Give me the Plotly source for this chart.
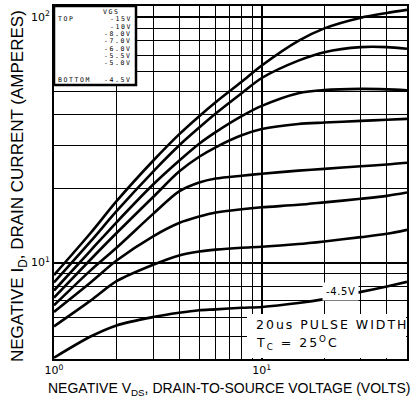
import plotly.graph_objects as go
import math

# ---- data ----
vds = [1, 1.5, 2, 3, 4, 5, 6, 8, 10, 15, 20, 30, 40, 50]
id_15v = [8.9, 13.2, 17.8, 26, 33.3, 39.5, 45, 54.5, 63.5, 80, 90, 99.5, 104, 107]
id_10v = [8.3, 12.2, 16.2, 23.5, 30, 35.5, 40.5, 49, 56.5, 66.5, 72, 75.5, 75.5, 74.3]
id_8v = [7.7, 11.2, 14.6, 20.8, 26, 30.5, 34, 39.5, 43.5, 49, 50.5, 51, 50.8, 50.4]
id_7v = [7.2, 10.3, 13.2, 18.5, 23.5, 27, 29.5, 33, 35, 36.7, 37.2, 37.8, 38.2, 38.5]
id_6v = [6.7, 9.3, 11.5, 15.8, 19.5, 21.2, 22.0, 22.6, 23.0, 23.7, 24.1, 24.7, 25.1, 25.5]
id_55v = [6.3, 8.3, 10.2, 12.8, 14.5, 15.4, 16.0, 16.5, 16.8, 17.2, 17.6, 18.2, 18.7, 19.3]
id_5v = [5.5, 7.0, 8.4, 9.8, 10.7, 11.1, 11.3, 11.5, 11.6, 11.9, 12.2, 12.7, 13.1, 13.6]
id_45v = [4.1, 5.0, 5.55, 6.0, 6.25, 6.4, 6.45, 6.55, 6.6, 6.85, 7.1, 7.6, 8.0, 8.35]

series = [id_15v, id_10v, id_8v, id_7v, id_6v, id_55v, id_5v, id_45v]
vgs_labels = ["-15V", "-10V", "-8.0V", "-7.0V", "-6.0V", "-5.5V", "-5.0V", "-4.5V"]

x_major = [1, 10]
x_major_text = ["10<sup>0</sup>", "10<sup>1</sup>"]
x_minor = [2, 3, 4, 5, 6, 7, 8, 9, 20, 30, 40]
y_major = [10, 100]
y_major_text = ["10<sup>1</sup>", "10<sup>2</sup>"]
y_minor = [5, 6, 7, 8, 9, 20, 30, 40, 50, 60, 70, 80, 90]

x_range = [1, 50]
y_range = [4.05, 111]

W, H = 413, 404
ML, MR, MT, MB = 54, 6, 6, 45
PW, PH = W - ML - MR, H - MT - MB


def px(xp):
    return (xp - ML) / PW


def py(yp):
    return 1 - (yp - MT) / PH


fig = go.Figure()
for ys, name in zip(series, vgs_labels):
    fig.add_trace(go.Scatter(x=vds, y=ys, mode="lines", name=name,
                             line=dict(color="black", width=2.6, shape="spline", smoothing=0.8),
                             hoverinfo="skip"))

grid_common = dict(type="log", showgrid=True, gridcolor="black", gridwidth=2,
                   showline=True, linecolor="black", linewidth=2, mirror=True,
                   ticks="", zeroline=False, automargin=False,
                   tickfont=dict(family="DejaVu Sans", size=11, color="black"))

fig.update_xaxes(range=[math.log10(x_range[0]), math.log10(x_range[1])],
                 tickvals=x_major, ticktext=x_major_text,
                 minor=dict(tickvals=x_minor, showgrid=True, gridcolor="black", gridwidth=1, ticks=""),
                 **grid_common)
fig.update_yaxes(range=[math.log10(y_range[0]), math.log10(y_range[1])],
                 tickvals=y_major, ticktext=y_major_text,
                 minor=dict(tickvals=y_minor, showgrid=True, gridcolor="black", gridwidth=1, ticks=""),
                 **grid_common)

shapes = [
    # legend box
    dict(type="rect", xref="paper", yref="paper", x0=0, x1=px(136), y0=py(85), y1=1,
         fillcolor="white", line=dict(color="black", width=2.5), layer="above"),
    # note box (white, borderless)
    dict(type="rect", xref="paper", yref="paper", x0=px(247), x1=px(406), y0=py(358), y1=py(314),
         fillcolor="white", line=dict(width=0), layer="above"),
]

mono = dict(family="DejaVu Sans Mono", size=6.5, color="black")
ann = []
ls = "letter-spacing:1.6px"
ann.append(dict(x=px(111), y=py(11.5), text=f"<span style='{ls}'>VGS</span>", xanchor="center"))
ann.append(dict(x=px(57), y=py(19.5), text=f"<span style='{ls}'>TOP</span>", xanchor="left"))
rows_py = [19.5, 26.8, 34.1, 41.4, 48.7, 56, 63.3, 80]
for lab, ry in zip(vgs_labels, rows_py):
    ann.append(dict(x=px(133), y=py(ry), text=f"<span style='{ls}'>{lab}</span>", xanchor="right"))
ann.append(dict(x=px(57), y=py(80), text=f"<span style='{ls}'>BOTTOM</span>", xanchor="left"))
for a in ann:
    a.update(xref="paper", yref="paper", showarrow=False, yanchor="middle", font=mono, borderpad=0)

notes_font = dict(family="DejaVu Sans", size=12.5, color="black")
ann.append(dict(xref="paper", yref="paper", x=px(254), y=py(324), xanchor="left", yanchor="middle",
                showarrow=False, font=notes_font,
                text="<span style='letter-spacing:2px'>20us PULSE WIDTH</span>"))
ann.append(dict(xref="paper", yref="paper", x=px(254), y=py(343), xanchor="left", yanchor="middle",
                showarrow=False, font=notes_font,
                text="<span style='letter-spacing:2px'>T<sub>C</sub> = 25<sup>O</sup>C</span>"))
ann.append(dict(xref="paper", yref="paper", x=px(340), y=py(291), xanchor="center", yanchor="middle",
                showarrow=False, bgcolor="white", borderpad=3,
                font=dict(family="DejaVu Sans", size=10, color="black"),
                text="<span style='letter-spacing:0.6px'>-4.5V</span>"))

title_font = "Liberation Sans, sans-serif"
ann.append(dict(xref="paper", yref="paper", x=px(229), y=py(389), xanchor="center", yanchor="middle",
                showarrow=False, font=dict(family=title_font, size=14, color="black"),
                text="NEGATIVE V<sub>DS</sub>, DRAIN-TO-SOURCE VOLTAGE (VOLTS)"))
ann.append(dict(xref="paper", yref="paper", x=px(19), y=py(186), xanchor="center", yanchor="middle",
                showarrow=False, textangle=-90, font=dict(family=title_font, size=17, color="black"),
                text="NEGATIVE I<sub>D</sub>, DRAIN CURRENT (AMPERES)"))

fig.update_layout(width=W, height=H, margin=dict(l=ML, r=MR, t=MT, b=MB),
                  paper_bgcolor="white", plot_bgcolor="white", showlegend=False,
                  shapes=shapes, annotations=ann)

fig.write_html("out.html", config={"displayModeBar": False},
               post_script="document.body.style.margin='0';document.body.style.padding='0';")
